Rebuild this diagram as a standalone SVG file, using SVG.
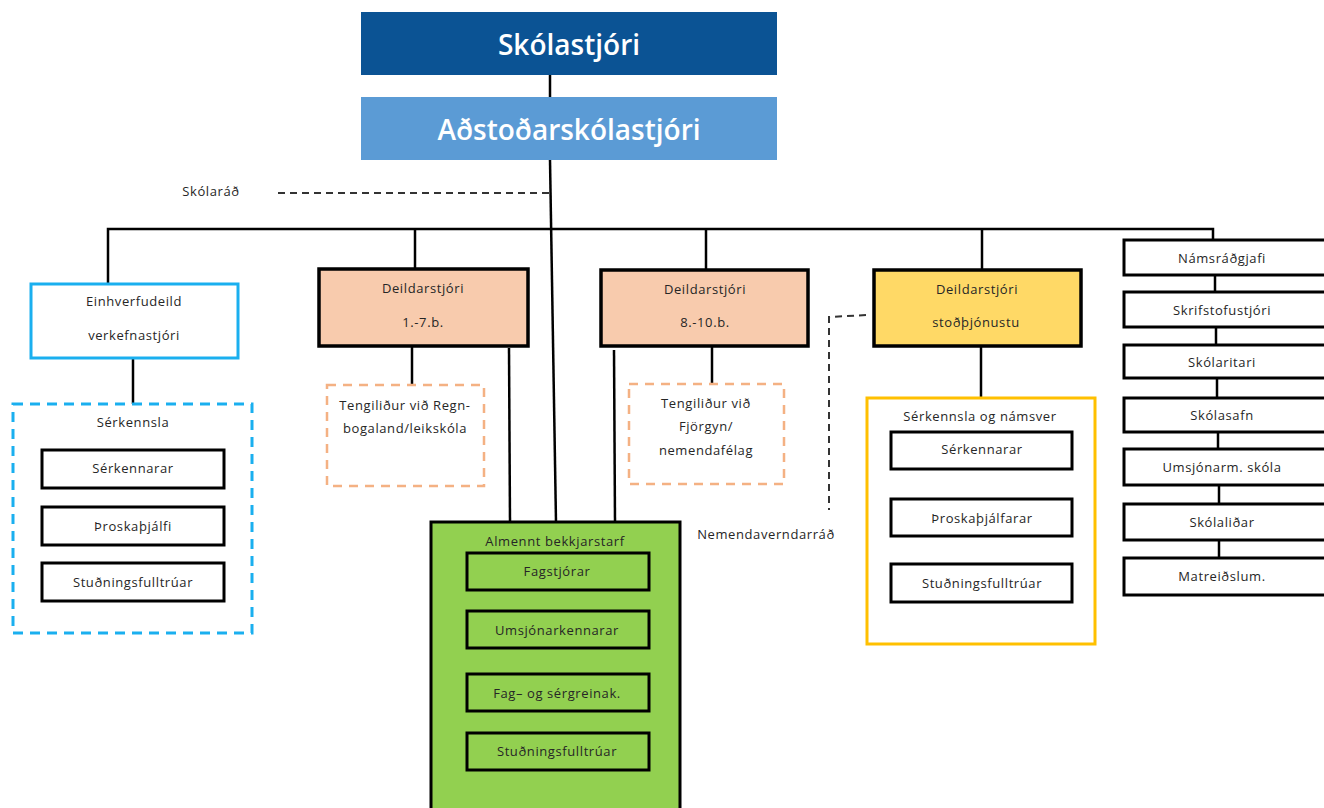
<svg xmlns="http://www.w3.org/2000/svg" width="1324" height="808" viewBox="0 0 1324 808">
<style>
.t{font-family:"Open Sans","Liberation Sans",sans-serif;font-size:13px;letter-spacing:0.6px;fill:#262626;text-anchor:middle;dominant-baseline:central}
.big{font-family:"Open Sans","Liberation Sans",sans-serif;font-size:28px;font-weight:600;fill:#fff;text-anchor:middle;dominant-baseline:central}
.bx{fill:#fff;stroke:#000;stroke-width:3}
.ln{stroke:#000;stroke-width:2.5;fill:none}
.dl{stroke:#333;stroke-width:2;fill:none;stroke-dasharray:7,5}
</style>
<rect width="1324" height="808" fill="#fff"/>
<g id="connectors">
<line class="ln" x1="550" y1="75" x2="550" y2="97"/>
<line class="ln" x1="550" y1="160" x2="556" y2="522"/>
<line class="dl" x1="278" y1="193" x2="550" y2="193"/>
<polyline class="ln" points="108,284 108,229 1213,229 1213,240"/>
<line class="ln" x1="415" y1="229" x2="415" y2="269"/>
<line class="ln" x1="706" y1="229" x2="706" y2="270"/>
<line class="ln" x1="982" y1="229" x2="982" y2="270"/>
<line class="ln" x1="133" y1="358" x2="133" y2="404"/>
<line class="ln" x1="412" y1="346" x2="412" y2="385"/>
<line class="ln" x1="509" y1="348" x2="510" y2="522"/>
<line class="ln" x1="614" y1="350" x2="615" y2="522"/>
<line class="ln" x1="712" y1="346" x2="712" y2="384"/>
<polyline class="dl" points="866,315 829,317 829,510"/>
<line class="ln" x1="981" y1="346" x2="981" y2="398"/>
<line class="ln" x1="1215" y1="275" x2="1215" y2="292"/>
<line class="ln" x1="1216" y1="327" x2="1216" y2="345"/>
<line class="ln" x1="1217" y1="378" x2="1217" y2="398"/>
<line class="ln" x1="1218" y1="432" x2="1218" y2="449"/>
<line class="ln" x1="1219" y1="485" x2="1219" y2="504"/>
<line class="ln" x1="1219" y1="540" x2="1219" y2="558"/>
</g>
<g id="skolastjori"><rect x="361" y="12" width="416" height="63" fill="#0B5394"/><text class="big" x="569" y="44">Skólastjóri</text></g>
<g id="adstodarskolastjori"><rect x="361" y="97" width="416" height="63" fill="#5B9BD5"/><text class="big" x="569" y="129">Aðstoðarskólastjóri</text></g>
<g id="skolarad"><text class="t" x="211" y="191">Skólaráð</text></g>
<g id="einhverfudeild"><rect x="31" y="284" width="207" height="74" fill="#fff" stroke="#1AAFEF" stroke-width="3"/><text class="t" x="134" y="301">Einhverfudeild</text><text class="t" x="134" y="335">verkefnastjóri</text></g>
<g id="serkennsla1"><rect x="13" y="404" width="239" height="229" fill="none" stroke="#1AAFEF" stroke-width="3" stroke-dasharray="10,7"/><text class="t" x="133" y="422">Sérkennsla</text>
<rect class="bx" x="42" y="450" width="182" height="38"/><text class="t" x="133" y="468">Sérkennarar</text>
<rect class="bx" x="42" y="507" width="182" height="38"/><text class="t" x="133" y="526">Þroskaþjálfi</text>
<rect class="bx" x="42" y="563" width="182" height="38"/><text class="t" x="133" y="582">Stuðningsfulltrúar</text></g>
<g id="deild17"><rect x="319" y="269" width="209" height="77" fill="#F8CBAD" stroke="#000" stroke-width="3.5"/><text class="t" x="423" y="288">Deildarstjóri</text><text class="t" x="423" y="322">1.-7.b.</text></g>
<g id="tengilidur1"><rect x="327" y="385" width="157" height="101" fill="none" stroke="#F4B183" stroke-width="2.5" stroke-dasharray="9,7"/><text class="t" x="405" y="405">Tengiliður við Regn-</text><text class="t" x="405" y="428">bogaland/leikskóla</text></g>
<g id="deild810"><rect x="601" y="270" width="207" height="76" fill="#F8CBAD" stroke="#000" stroke-width="3.5"/><text class="t" x="705" y="289">Deildarstjóri</text><text class="t" x="705" y="322">8.-10.b.</text></g>
<g id="tengilidur2"><rect x="629" y="384" width="155" height="100" fill="none" stroke="#F4B183" stroke-width="2.5" stroke-dasharray="9,7"/><text class="t" x="706" y="403">Tengiliður við</text><text class="t" x="706" y="426">Fjörgyn/</text><text class="t" x="706" y="450">nemendafélag</text></g>
<g id="stodthjonusta"><rect x="874" y="270" width="207" height="76" fill="#FFD966" stroke="#000" stroke-width="3.5"/><text class="t" x="977" y="289">Deildarstjóri</text><text class="t" x="976" y="322">stoðþjónustu</text></g>
<g id="nemendaverndarrad"><text class="t" x="766" y="534">Nemendaverndarráð</text></g>
<g id="serkennsla2"><rect x="867" y="398" width="228" height="246" fill="none" stroke="#FFC000" stroke-width="3"/><text class="t" x="980" y="416">Sérkennsla og námsver</text>
<rect class="bx" x="891" y="432" width="181" height="37"/><text class="t" x="982" y="449">Sérkennarar</text>
<rect class="bx" x="891" y="499" width="181" height="37"/><text class="t" x="982" y="518">Þroskaþjálfarar</text>
<rect class="bx" x="891" y="564" width="181" height="38"/><text class="t" x="982" y="583">Stuðningsfulltrúar</text></g>
<g id="almennt"><rect x="431" y="522" width="249" height="300" fill="#92D050" stroke="#000" stroke-width="3"/><text class="t" x="555" y="541">Almennt bekkjarstarf</text>
<rect x="467" y="553" width="182" height="37" fill="#92D050" stroke="#000" stroke-width="3"/><text class="t" x="557" y="571">Fagstjórar</text>
<rect x="467" y="611" width="182" height="37" fill="#92D050" stroke="#000" stroke-width="3"/><text class="t" x="557" y="630">Umsjónarkennarar</text>
<rect x="467" y="674" width="182" height="37" fill="#92D050" stroke="#000" stroke-width="3"/><text class="t" x="557" y="693">Fag– og sérgreinak.</text>
<rect x="467" y="733" width="182" height="37" fill="#92D050" stroke="#000" stroke-width="3"/><text class="t" x="557" y="751">Stuðningsfulltrúar</text></g>
<g id="namsradgjafi"><rect class="bx" x="1124" y="240" width="210" height="35"/><text class="t" x="1222" y="258">Námsráðgjafi</text></g>
<g id="skrifstofustjori"><rect class="bx" x="1124" y="292" width="210" height="35"/><text class="t" x="1222" y="310">Skrifstofustjóri</text></g>
<g id="skolaritari"><rect class="bx" x="1124" y="345" width="210" height="33"/><text class="t" x="1222" y="362">Skólaritari</text></g>
<g id="skolasafn"><rect class="bx" x="1124" y="398" width="210" height="34"/><text class="t" x="1222" y="415">Skólasafn</text></g>
<g id="umsjonarm"><rect class="bx" x="1124" y="449" width="210" height="36"/><text class="t" x="1222" y="467">Umsjónarm. skóla</text></g>
<g id="skolalidar"><rect class="bx" x="1124" y="504" width="210" height="36"/><text class="t" x="1222" y="522">Skólaliðar</text></g>
<g id="matreidslum"><rect class="bx" x="1124" y="558" width="210" height="37"/><text class="t" x="1222" y="576">Matreiðslum.</text></g>
</svg>
